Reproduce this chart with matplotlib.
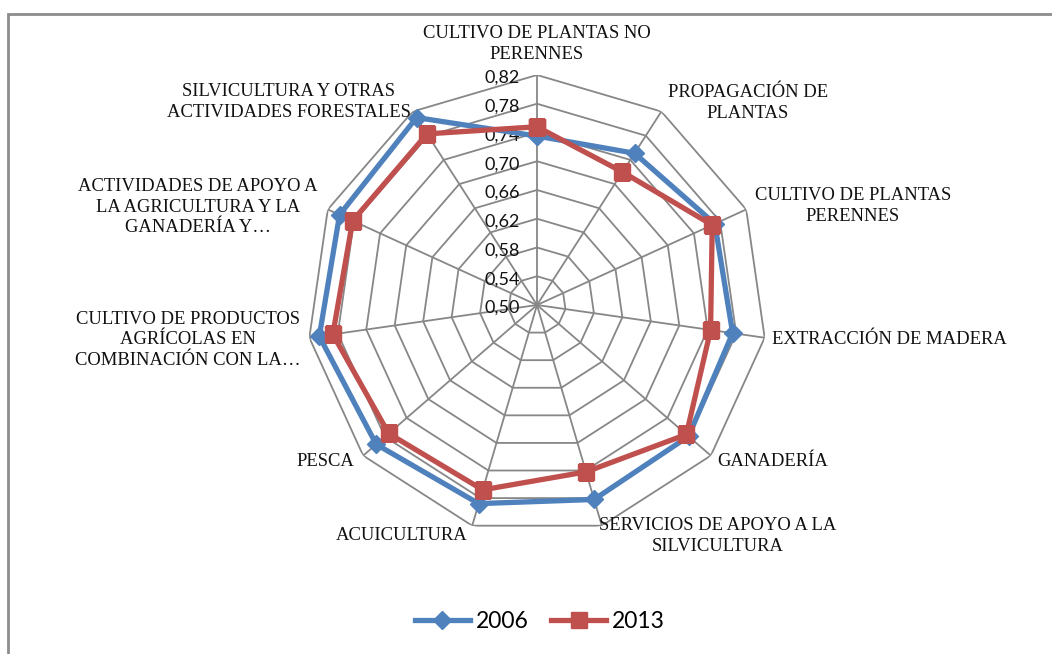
#!/usr/bin/env python3
"""Radar chart: 2006 vs 2013 by activity."""
import numpy as np
import matplotlib
matplotlib.use("Agg")
import matplotlib.pyplot as plt
from matplotlib.patches import Rectangle
from matplotlib.transforms import offset_copy

categories = [
    "CULTIVO DE PLANTAS NO\nPERENNES",
    "PROPAGACIÓN DE\nPLANTAS",
    "CULTIVO DE PLANTAS\nPERENNES",
    "EXTRACCIÓN DE MADERA",
    "GANADERÍA",
    "SERVICIOS DE APOYO A LA\nSILVICULTURA",
    "ACUICULTURA",
    "PESCA",
    "CULTIVO DE PRODUCTOS\nAGRÍCOLAS EN\nCOMBINACIÓN CON LA…",
    "ACTIVIDADES DE APOYO A\nLA AGRICULTURA Y LA\nGANADERÍA Y…",
    "SILVICULTURA Y OTRAS\nACTIVIDADES FORESTALES",
]
v2006 = [0.735, 0.751, 0.772, 0.775, 0.779, 0.782, 0.788, 0.796, 0.806, 0.802, 0.810]
v2013 = [0.748, 0.720, 0.768, 0.744, 0.775, 0.742, 0.768, 0.773, 0.787, 0.782, 0.783]
rticks = [0.50, 0.54, 0.58, 0.62, 0.66, 0.70, 0.74, 0.78, 0.82]
rtick_labels = ["0,50", "0,54", "0,58", "0,62", "0,66", "0,70", "0,74", "0,78", "0,82"]

# label anchor points in pixels (x, y, ha)
label_pos = [
    (537, 44, "center"), (748, 103, "center"), (853, 206, "center"),
    (772, 340, "left"), (717, 462, "left"), (718, 536, "center"),
    (402, 535, "center"), (325, 462, "center"), (188, 340, "center"),
    (198, 207, "center"), (289, 102, "center"),
]

W, H = 1052, 654
BLUE, RED, GRID = "#4F81BD", "#C0504D", "#878787"
serif = ["Liberation Serif", "DejaVu Serif"]
sans = ["Lato", "DejaVu Sans"]

fig = plt.figure(figsize=(W / 100, H / 100), dpi=100)
cx, cy, R = 537, 305, 230
ax = fig.add_axes([(cx - R) / W, (H - cy - R) / H, 2 * R / W, 2 * R / H], projection="polar")
ax.set_theta_zero_location("N")
ax.set_theta_direction(-1)
ax.set_ylim(rticks[0], rticks[-1])
ax.grid(False)
ax.set_xticks([]); ax.set_yticks([])
ax.spines["polar"].set_visible(False)
ax.patch.set_visible(False)

n = len(categories)
theta = np.linspace(0, 2 * np.pi, n, endpoint=False)
tc = np.append(theta, theta[0])

# polygon grid
for r in rticks[1:]:
    ax.plot(tc, [r] * (n + 1), color=GRID, lw=1.3, zorder=1)
for t in theta:
    ax.plot([t, t], [rticks[0], rticks[-1]], color=GRID, lw=1.3, zorder=1)

tr = offset_copy(ax.transData, fig=fig, x=-17, y=-3, units="dots")
for r, lab in zip(rticks, rtick_labels):
    ax.text(0, r, lab, transform=tr, ha="right", va="center", fontsize=13,
            family=sans, color="#111111", zorder=2)

l1, = ax.plot(tc, v2006 + v2006[:1], color=BLUE, lw=3.8, marker="D", ms=9.5,
              label="2006", zorder=3)
l2, = ax.plot(tc, v2013 + v2013[:1], color=RED, lw=3.8, marker="s", ms=11,
              label="2013", zorder=4)

for lab, (x, y, ha) in zip(categories, label_pos):
    fig.text(x / W, 1 - y / H, lab, ha=ha, va="center", multialignment="center",
             fontsize=13.4, family=serif, color="#111111", linespacing=1.28)

fig.legend(handles=[l1, l2], loc="center", bbox_to_anchor=(540 / W, 1 - 622 / H),
           ncol=2, frameon=False, prop={"family": sans, "size": 16.5},
           handlelength=2.4, handletextpad=0.25, columnspacing=1.0)

# outer chart frame
fig.patches.append(Rectangle((7.5 / W, -0.1), 2, 1.1 - 13.5 / H, transform=fig.transFigure,
                             fill=False, edgecolor="#8C8C8C", lw=2))

fig.savefig("out.png", dpi=100)
print("Saved out.png")
